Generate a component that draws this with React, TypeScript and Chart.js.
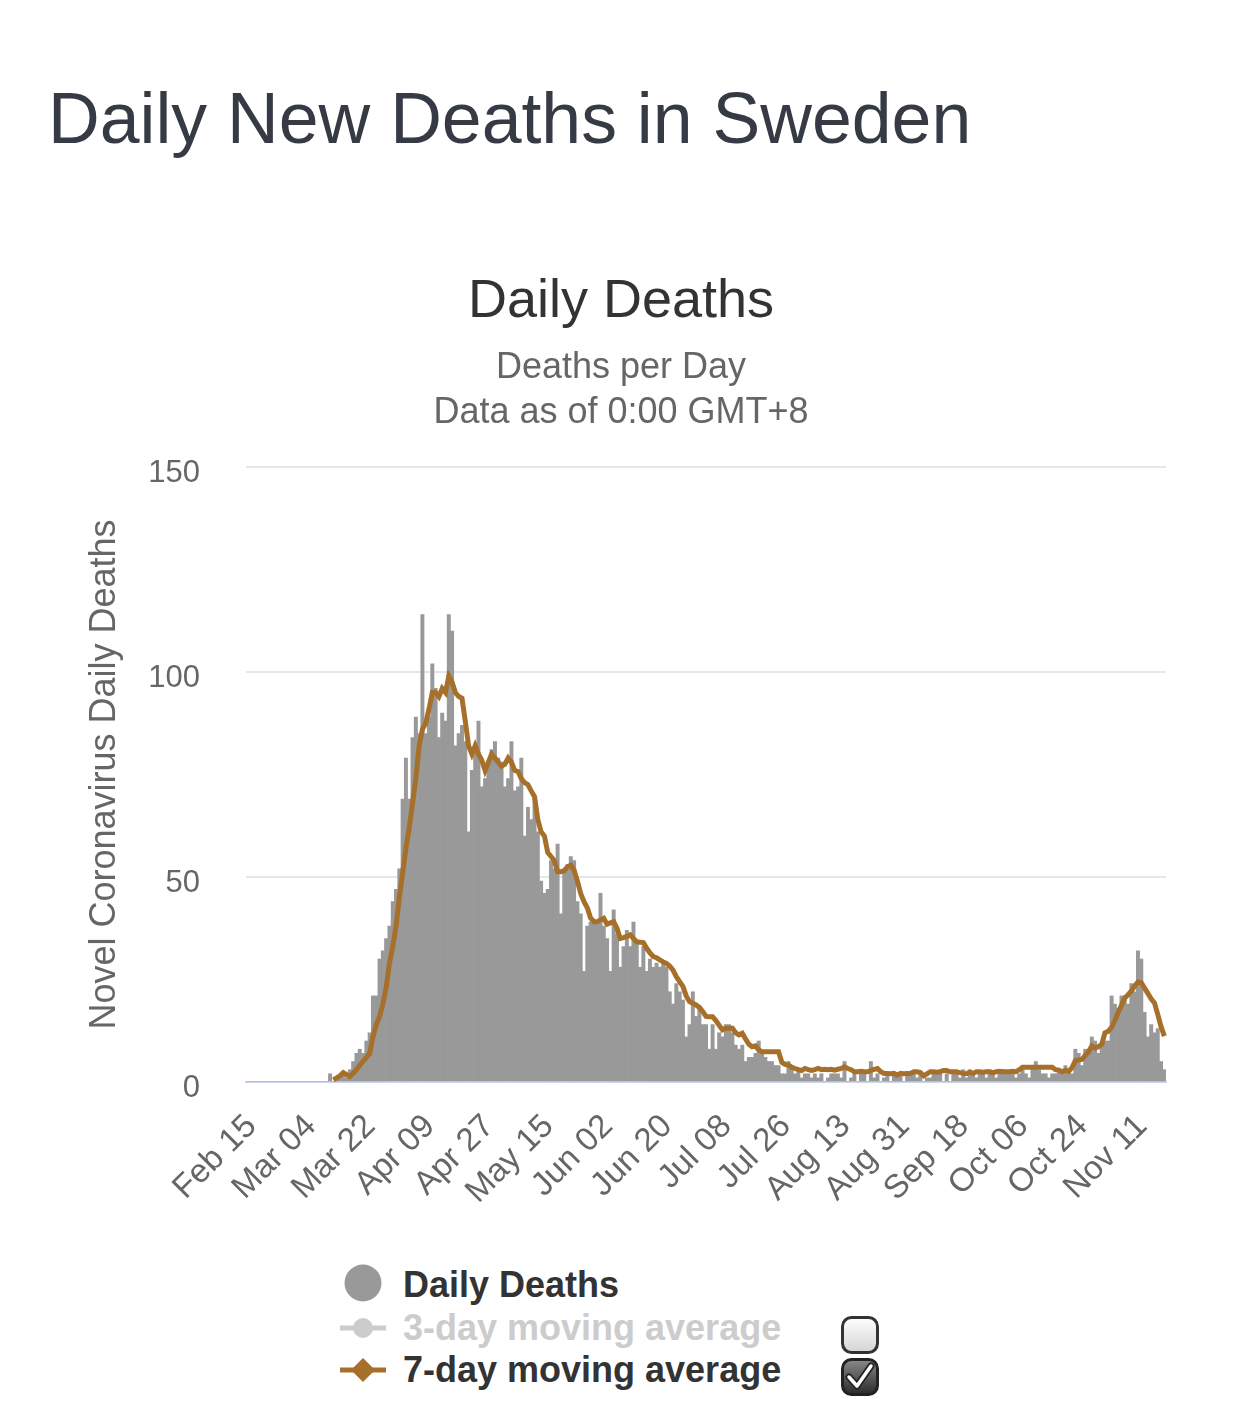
import { useEffect, useRef } from 'react';
import { Chart, registerables } from 'chart.js';

Chart.register(...registerables);

const FONT = '"Liberation Sans", Arial, Helvetica, sans-serif';

// Categories: one per day, Feb 15 .. Nov 19 (2020)
const START_YEAR = 2020;
const START_MONTH = 1; // February (0-based)
const START_DAY = 15;
const DAY_COUNT = 279;
const MONTHS = ['Jan', 'Feb', 'Mar', 'Apr', 'May', 'Jun', 'Jul', 'Aug', 'Sep', 'Oct', 'Nov', 'Dec'];
const CATEGORIES: string[] = Array.from({ length: DAY_COUNT }, (_, i) => {
  const d = new Date(START_YEAR, START_MONTH, START_DAY + i);
  return `${MONTHS[d.getMonth()]} ${String(d.getDate()).padStart(2, '0')}`;
});
const TICK_EVERY = 18;

const DAILY_DEATHS: number[] = [
  0, 0, 0, 0, 0, 0, 0, 0, 0, 0, 0, 0, 0, 0, 0, 0, 0, 0, 0, 0, 0, 0, 0, 0, 0,
  2, 0, 1, 1, 2, 1, 3, 5, 7, 8, 7, 10, 12, 21, 21, 30,
  32, 35, 38, 44, 47, 52, 69, 79, 69, 84,
  89, 85, 114, 85, 89, 102, 96, 84, 90, 88,
  114, 110, 82, 85, 87, 83, 61, 76, 82, 88,
  72, 74, 78, 81, 83, 79, 78, 72, 74, 83,
  71, 72, 79, 60, 67, 64, 69, 61, 49, 46,
  47, 54, 52, 58, 41, 52, 53, 55, 54, 44,
  41, 27, 38, 39, 39, 39, 46, 38, 35, 27,
  42, 36, 28, 33, 37, 33, 39, 34, 28, 33,
  27, 30, 28, 29, 28, 29, 28, 22, 19, 24,
  22, 20, 11, 14, 22, 16, 18, 14, 14, 8,
  14, 8, 12, 11, 14, 14, 12, 9, 8, 9,
  5, 6, 6, 7, 10, 7, 6, 5, 5, 4,
  4, 2, 2, 5, 4, 2, 3, 1, 2, 2,
  1, 2, 1, 2, 0, 1, 2, 2, 2, 1,
  5, 0, 1, 2, 0, 2, 2, 0, 5, 1,
  2, 0, 1, 2, 0, 2, 2, 2, 0, 2,
  2, 2, 1, 2, 0, 1, 1, 2, 2, 2,
  0, 2, 0, 2, 2, 1, 3, 1, 3, 2,
  1, 2, 2, 1, 3, 2, 1, 2, 3, 2,
  2, 3, 1, 2, 3, 2, 1, 4, 5, 3,
  2, 2, 1, 2, 2, 3, 2, 4, 3, 2,
  8, 7, 4, 8, 7, 11, 10, 7, 9, 10,
  10, 21, 19, 18, 21, 21, 19, 24, 22, 32,
  30, 17, 11, 14, 12, 13, 5, 3,
];

const AVG_7DAY: (number | null)[] = [
  null, null, null, null, null, null, null, null, null, null, null, null, null,
  null, null, null, null, null, null, null, null, null, null, null, null, null,
  0.5, 1, 1.5, 2.3, 1.8, 1.3, 2.1, 3, 4.1, 5, 6, 7, 11, 14, 16,
  19, 23, 29, 33, 38, 45, 51, 57, 62, 68,
  74, 82, 86, 87.5, 91, 95, 95, 94, 96, 95,
  99, 97.5, 95, 94, 93.6, 88, 82, 80, 82, 80,
  78.5, 76, 78, 80, 79, 78, 77, 77.5, 79, 78,
  76, 75.7, 74, 73, 72.5, 71, 69.6, 64, 61, 60,
  56, 55, 54, 51.3, 51.3, 51.5, 52.5, 52.9, 51.7, 49,
  46, 44, 42.5, 40, 39.1, 39.1, 39.5, 39.9, 38.5, 38.8,
  39.1, 37.5, 35, 35.2, 35.5, 35.9, 35, 34.2, 34.1, 34,
  32.6, 31.5, 30.6, 30.3, 29.8, 29.3, 28.9, 28.3, 27.3, 25.7,
  24.5, 23.3, 21, 19.6, 19.2, 18.8, 18.2, 17.2, 16, 15.9,
  15.9, 15, 13.8, 12.7, 13.1, 13.1, 13.1, 12, 11.5, 11.9,
  10.5, 9.2, 8.6, 8.8, 7.8, 7.4, 7.4, 7.4, 7.4, 7.4,
  7.4, 4.8, 4.3, 4.1, 3.6, 3.3, 3, 2.8, 3.3, 3,
  2.8, 3, 3.3, 3, 3.1, 3, 3.1, 2.9, 3.1, 3.3,
  3.7, 3.3, 3, 2.5, 2.5, 2.6, 2.5, 2.5, 2.8, 3.1,
  3.3, 2.5, 2.1, 2.1, 2, 2.1, 1.7, 2.1, 2, 2.1,
  2.1, 2.5, 2.5, 2.3, 1.5, 2, 2.5, 2.5, 2.4, 2.5,
  2.8, 2.8, 2.5, 2.5, 2.5, 2.3, 2.1, 2, 2.4, 2.1,
  2.5, 2.5, 2.4, 2.5, 2.5, 2.3, 2.5, 2.6, 2.5, 2.5,
  2.5, 2.6, 2.5, 3, 3.6, 3.6, 3.6, 3.6, 3.6, 3.6,
  3.6, 3.6, 3.6, 3.6, 3, 2.9, 2.5, 2.9, 2.6, 3.5,
  5.2, 5.4, 5.5, 6.5, 7.4, 8.8, 8.3, 8.6, 9.2, 12,
  12.4, 13.3, 15, 17, 18.7, 20.5, 21.3, 22.2, 23.4, 24.4,
  24.2, 22.9, 21.6, 20.3, 19.3, 16.5, 13.5, 11.2,
];

const Y_MIN = 0;
const Y_MAX = 150;
const Y_STEP = 50;

const BAR_COLOR = '#999999';
const LINE_COLOR = '#a6702a';

export default function App() {
  const ref = useRef<HTMLCanvasElement>(null);

  useEffect(() => {
    if (!ref.current) return;
    const chart = new Chart(ref.current, {
      type: 'bar',
      data: {
        labels: CATEGORIES,
        datasets: [
          {
            type: 'line',
            label: '7-day moving average',
            data: AVG_7DAY,
            borderColor: LINE_COLOR,
            backgroundColor: LINE_COLOR,
            borderWidth: 5,
            pointRadius: 0,
            tension: 0,
            order: 0,
            yAxisID: 'y',
          } as any,
          {
            type: 'bar',
            label: 'Daily Deaths',
            data: DAILY_DEATHS,
            backgroundColor: BAR_COLOR,
            barPercentage: 1,
            categoryPercentage: 1,
            order: 1,
            yAxisID: 'y',
          } as any,
        ],
      },
      options: {
        responsive: false,
        animation: false,
        devicePixelRatio: 1,
        layout: { padding: { left: 0, right: 0, top: 0, bottom: 0 } },
        plugins: {
          legend: { display: false },
          tooltip: { enabled: false },
          title: {
            display: true,
            text: 'Daily Deaths',
            color: '#333333',
            font: { family: FONT, size: 54, weight: 'normal', lineHeight: 1.2 },
            padding: { top: 29.6, bottom: 11.1 },
          },
          subtitle: {
            display: true,
            text: ['Deaths per Day', 'Data as of 0:00 GMT+8'],
            color: '#666666',
            font: { family: FONT, size: 36, weight: 'normal', lineHeight: 45 / 36 },
            padding: { top: 0, bottom: 31.5 },
          },
        },
        scales: {
          x: {
            grid: { display: false },
            border: { color: '#ccd6eb', width: 2 },
            ticks: {
              autoSkip: false,
              minRotation: 45,
              maxRotation: 45,
              padding: 17,
              labelOffset: 4,
              color: '#666666',
              font: { family: FONT, size: 33, lineHeight: 1.2 },
              callback: (_v: any, i: number) => (i % TICK_EVERY === 0 ? CATEGORIES[i] : null),
            },
            afterFit: (s: any) => {
              s.height = 138;
            },
          },
          y: {
            position: 'left',
            min: Y_MIN,
            max: Y_MAX,
            ticks: {
              stepSize: Y_STEP,
              padding: 46,
              labelOffset: 6,
              color: '#666666',
              font: { family: FONT, size: 31, lineHeight: 1.2 },
            },
            grid: { color: '#e6e6e6', lineWidth: 2, drawTicks: false },
            border: { display: false },
            title: {
              display: true,
              text: 'Novel Coronavirus Daily Deaths',
              color: '#666666',
              font: { family: FONT, size: 36, lineHeight: 1.2 },
              padding: { top: 83, bottom: 0 },
            },
            afterFit: (s: any) => {
              s.width = 246;
            },
          },
          spacerRight: {
            type: 'linear',
            position: 'right',
            display: true,
            grid: { display: false, drawTicks: false },
            border: { display: false },
            ticks: { display: false },
            title: { display: false },
            afterFit: (s: any) => {
              s.width = 76;
            },
          },
        },
      } as any,
    });
    return () => chart.destroy();
  }, []);

  const legendText = (top: number, color: string, text: string) => (
    <div
      style={{
        position: 'absolute',
        left: 403,
        top,
        fontFamily: FONT,
        fontWeight: 'bold',
        fontSize: 36,
        lineHeight: '40px',
        color,
        whiteSpace: 'nowrap',
      }}
    >
      {text}
    </div>
  );

  return (
    <div style={{ position: 'absolute', left: 0, top: 0, width: 1242, height: 1424, background: '#fff' }}>
      <div
        style={{
          position: 'absolute',
          left: 48,
          top: 82,
          fontFamily: FONT,
          fontSize: 71.6,
          lineHeight: '72px',
          color: '#363a45',
          whiteSpace: 'nowrap',
        }}
      >
        Daily New Deaths in Sweden
      </div>
      <canvas
        ref={ref}
        width={1242}
        height={980}
        style={{ position: 'absolute', left: 0, top: 240, width: 1242, height: 980 }}
      />
      <svg
        width={1242}
        height={200}
        style={{ position: 'absolute', left: 0, top: 1224 }}
        viewBox="0 1224 1242 200"
      >
        <defs>
          <linearGradient id="cbOff" x1="0" y1="0" x2="0" y2="1">
            <stop offset="0" stopColor="#ffffff" />
            <stop offset="1" stopColor="#d4d4d4" />
          </linearGradient>
          <linearGradient id="cbOn" x1="0" y1="0" x2="0" y2="1">
            <stop offset="0" stopColor="#8a8a8a" />
            <stop offset="1" stopColor="#2a2a2a" />
          </linearGradient>
        </defs>
        <circle cx={363} cy={1283} r={18.5} fill={BAR_COLOR} />
        <line x1={340} y1={1328} x2={386} y2={1328} stroke="#cccccc" strokeWidth={5} />
        <circle cx={363} cy={1328} r={10} fill="#cccccc" />
        <line x1={340} y1={1370} x2={386} y2={1370} stroke={LINE_COLOR} strokeWidth={5} />
        <path d="M363 1358 L375 1370 L363 1382 L351 1370 Z" fill={LINE_COLOR} />
        <rect x={842.5} y={1317.5} width={35} height={35} rx={9} fill="url(#cbOff)" stroke="#333" strokeWidth={3} />
        <rect x={842.5} y={1359.5} width={35} height={35} rx={9} fill="url(#cbOn)" stroke="#222" strokeWidth={3} />
        <path d="M849 1377 L857 1386 L871 1366" fill="none" stroke="#222" strokeWidth={7} strokeLinecap="round" strokeLinejoin="round" />
        <path d="M849 1377 L857 1386 L871 1366" fill="none" stroke="#ffffff" strokeWidth={3.5} strokeLinecap="round" strokeLinejoin="round" />
      </svg>
      {legendText(1265, '#333333', 'Daily Deaths')}
      {legendText(1308, '#cccccc', '3-day moving average')}
      {legendText(1350, '#333333', '7-day moving average')}
    </div>
  );
}
